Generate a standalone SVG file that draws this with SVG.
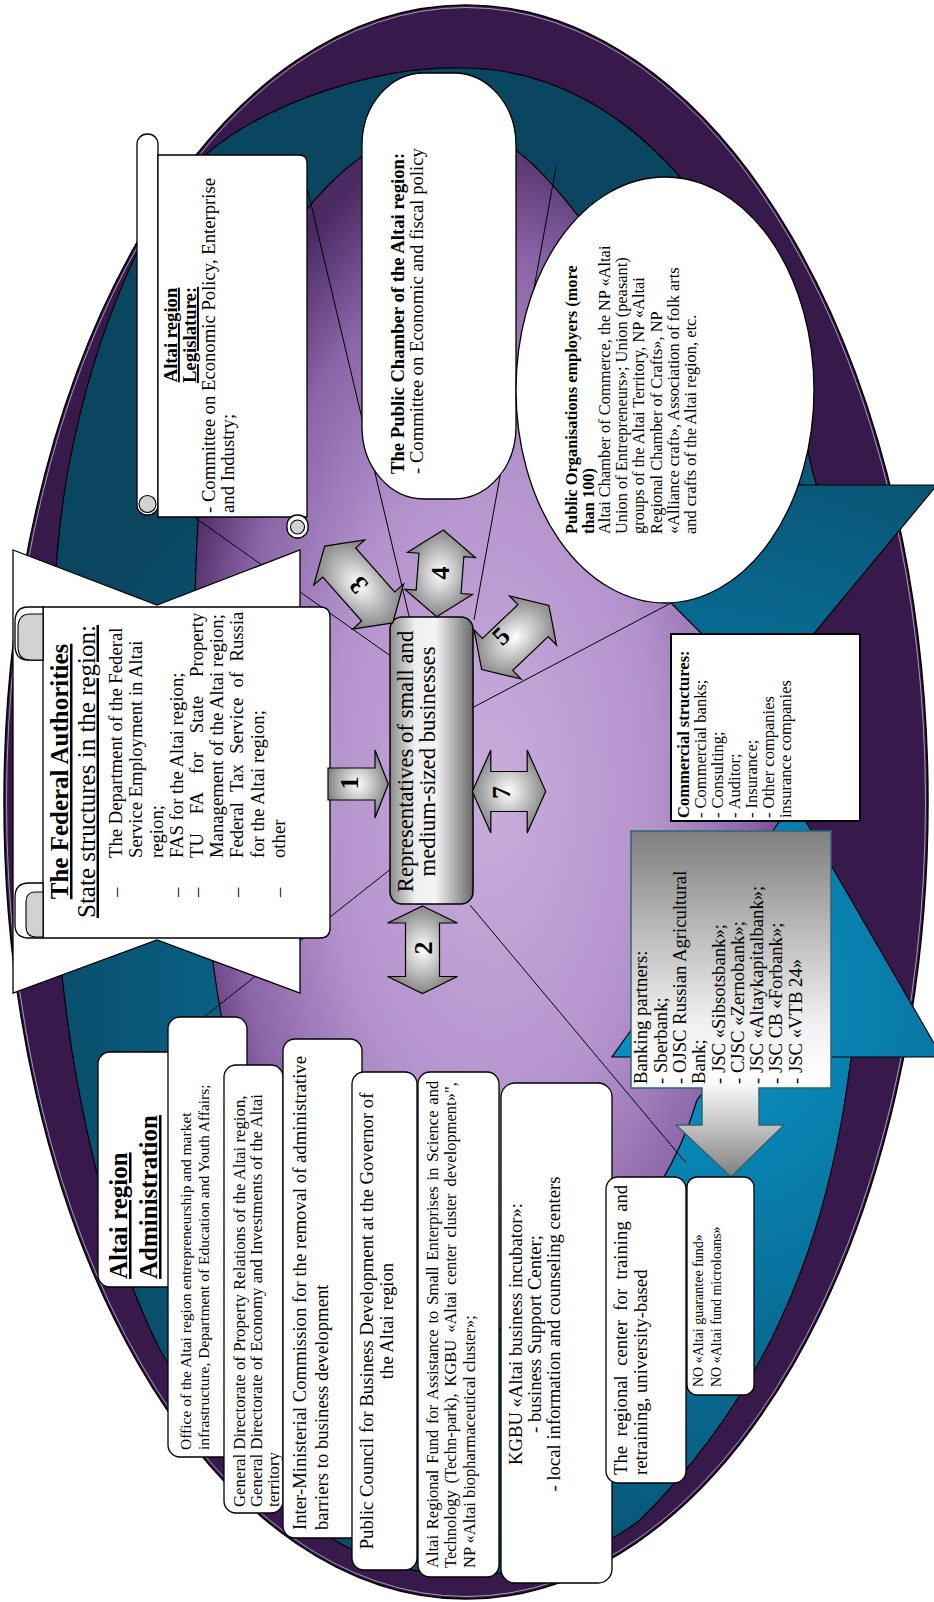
<svg xmlns="http://www.w3.org/2000/svg" width="934" height="1602" viewBox="0 0 934 1602">
<style>
.t{font-family:"Liberation Serif","Times New Roman",serif;fill:#000}
.b{font-weight:bold}
.u{text-decoration:underline}
.mid{text-anchor:middle}
.box{fill:#fff;stroke:#000;stroke-width:1.3}
.ln{stroke:#000;stroke-width:1;fill:none}
.arr{fill:url(#gArr);stroke:#000;stroke-width:1.2}
.num{font-family:"Liberation Serif","Times New Roman",serif;font-weight:bold;font-size:26px;text-anchor:middle;dominant-baseline:central}
.gray{fill:#d2d2d6;stroke:#000;stroke-width:1.1}
.teal{fill:url(#gTeal);stroke:#000;stroke-width:1.2}
</style>
<defs>
<radialGradient id="gTeal" gradientUnits="userSpaceOnUse" cx="680" cy="1000" r="700">
<stop offset="0" stop-color="#0a98cc"/><stop offset="0.45" stop-color="#08709a"/><stop offset="1" stop-color="#0a4660"/>
</radialGradient>
<radialGradient id="gPurple" cx="0.5" cy="0.55" r="0.55">
<stop offset="0" stop-color="#c9addb"/><stop offset="0.5" stop-color="#b493cc"/><stop offset="0.8" stop-color="#8a65a8"/><stop offset="1" stop-color="#4b2a62"/>
</radialGradient>
<radialGradient id="gArr" cx="0.5" cy="0.5" r="0.55">
<stop offset="0" stop-color="#ffffff"/><stop offset="1" stop-color="#7a7a7a"/>
</radialGradient>
<linearGradient id="gCenter" x1="0" y1="0" x2="1" y2="0">
<stop offset="0" stop-color="#8a8a8a"/><stop offset="0.3" stop-color="#efefef"/><stop offset="0.55" stop-color="#f4f4f4"/><stop offset="1" stop-color="#6a6a6a"/>
</linearGradient>
<linearGradient id="gBank" gradientUnits="userSpaceOnUse" x1="0" y1="831" x2="0" y2="1177">
<stop offset="0" stop-color="#7f7f7f"/><stop offset="0.55" stop-color="#f0f0f0"/><stop offset="0.72" stop-color="#ffffff"/><stop offset="1" stop-color="#7f7f7f"/>
</linearGradient>
<clipPath id="gap"><path clip-rule="evenodd" d="M0,0H934V1602H0Z M600,485H940V1057H600Z"/></clipPath>
</defs>

<g id="background">
<ellipse cx="466" cy="802" rx="462" ry="797" fill="#371a4b" stroke="#000" stroke-width="1.5"/>
<ellipse cx="466" cy="802" rx="459.5" ry="794.5" fill="none" stroke="#fff" stroke-width="0.8" opacity="0.7"/>
<path class="teal" clip-path="url(#gap)" d="M462,68 C640,68 770,250 812,470 C845,580 872,690 870,800 C868,900 862,990 845,1100 C820,1260 760,1400 640,1520 C580,1565 520,1575 460,1575 C330,1575 230,1470 160,1350 C100,1230 62,1050 55,880 C48,700 50,560 70,460 C95,330 150,202 205,155 C270,100 380,66 462,68 Z"/>
<path fill="url(#gPurple)" stroke="#000" stroke-width="1.2" d="M440,122 C500,122 545,170 590,232 C700,390 790,600 790,820 C790,960 740,1050 697,1100 C665,1210 560,1340 440,1340 C330,1340 250,1200 222,1020 C200,900 188,700 198,520 C215,330 300,150 440,122 Z"/>
<polygon class="teal" points="553,485 937,485 763,695"/>
<polygon class="teal" points="612,1057 942,1057 794,801"/>
</g>

<g id="connectors">
<line class="ln" x1="410" y1="620" x2="300" y2="158"/>
<line class="ln" x1="474" y1="620" x2="556" y2="167"/>
<line class="ln" x1="470" y1="709" x2="690" y2="593"/>
<line class="ln" x1="392" y1="657" x2="170" y2="500"/>
<line class="ln" x1="392" y1="868" x2="190" y2="1028"/>
<line class="ln" x1="470" y1="905" x2="686" y2="1163"/>
</g>

<g id="node-legislature">
<rect class="box" x="137" y="134" width="21" height="381" rx="10"/>
<path class="box" d="M158,155 H299 Q307,155 307,163 V517 H158 Z"/>
<rect class="box" x="287" y="515" width="21" height="23" rx="10"/>
<circle class="gray" cx="297.5" cy="527" r="7"/>
<circle class="gray" cx="147.5" cy="504" r="8.5"/>
<g transform="rotate(-90)" class="t" font-size="18.7">
<text class="b u mid" x="-335" y="177">Altai region</text>
<text class="b u mid" x="-335" y="196">Legislature:</text>
<text x="-513" y="215">- Committee on Economic Policy, Enterprise</text>
<text x="-513" y="233.5">and Industry;</text>
</g>
</g>

<g id="node-public-chamber">
<rect class="box" x="362" y="73" width="154" height="426" rx="62" ry="72"/>
<g transform="rotate(-90)" class="t" font-size="18.7">
<text class="b" x="-474" y="404">The Public Chamber of the Altai region:</text>
<text x="-474" y="423">- Committee on Economic and fiscal policy</text>
</g>
</g>

<g id="node-public-organisations">
<ellipse class="box" cx="665" cy="390" rx="149" ry="213"/>
<g transform="rotate(-90)" class="t" font-size="16.4">
<text class="b" x="-534" y="577">Public Organisations employers (more</text>
<text class="b" x="-534" y="593.5">than 100)</text>
<text x="-534" y="610">Altai Chamber of Commerce, the NP «Altai</text>
<text x="-534" y="627">Union of Entrepreneurs»; Union (peasant)</text>
<text x="-534" y="644">groups of the Altai Territory, NP «Altai</text>
<text x="-534" y="661.5">Regional Chamber of Crafts», NP</text>
<text x="-534" y="679">«Alliance craft», Association of folk arts</text>
<text x="-534" y="696">and crafts of the Altai region, etc.</text>
</g>
</g>

<g id="node-federal">
<polygon class="box" points="13,550 157,605 300,550 300,993 157,940 13,993"/>
<path class="box" d="M43,607 H320 Q330,607 330,617 V928 Q330,938 320,938 H43 Z"/>
<path class="box" d="M43,607 H28 Q15,607 15,622 V645 Q15,660 28,660 H43 Z"/>
<path class="gray" d="M43,614 H30 Q18,614 18,628 V647 Q18,660 31,660 H43 Z"/>
<path class="box" d="M43,883 H29 Q15,883 15,897 V925 Q15,938 29,938 H43 Z"/>
<path class="gray" d="M43,892 H35 Q26,892 26,902 V926 Q26,937 36,937 H43 Z"/>
<g transform="rotate(-90)" class="t">
<text class="b u mid" font-size="25" x="-771.5" y="68">The Federal Authorities</text>
<text class="u mid" font-size="25" x="-771.5" y="94.5">State structures in the region:</text>
<g font-size="18.7">
<text x="-897" y="122">–</text>
<text x="-858" y="122">The Department of the Federal</text>
<text x="-858" y="142">Service Employment in Altai</text>
<text x="-858" y="163">region;</text>
<text x="-897" y="183">–</text>
<text x="-858" y="183">FAS for the Altai region;</text>
<text x="-897" y="203">–</text>
<text x="-858" y="203" style="word-spacing:14.2px">TU FA for State Property</text>
<text x="-858" y="223">Management of the Altai region;</text>
<text x="-897" y="243">–</text>
<text x="-858" y="243" style="word-spacing:5.7px">Federal Tax Service of Russia</text>
<text x="-858" y="264">for the Altai region;</text>
<text x="-897" y="285">–</text>
<text x="-858" y="285">other</text>
</g>
</g>
</g>

<g id="node-center">
<rect x="390" y="617" width="83" height="287" rx="12" fill="url(#gCenter)" stroke="#000" stroke-width="1.5"/>
<g transform="rotate(-90)" class="t" font-size="22.7">
<text class="mid" x="-761.5" y="413">Representatives of small and</text>
<text class="mid" x="-761.5" y="435">medium-sized businesses</text>
</g>
</g>

<g id="arrow-1">
<path class="arr" d="M328,768 L375,768 L375,750 L388.3,784 L375,818 L375,800 L328,800 Z"/>
<text class="num" transform="translate(349,783) rotate(-90)">1</text>
</g>
<g id="arrow-2">
<path class="arr" d="M422.5,906 L457.5,923 L439.5,923 L439.5,976.5 L457.5,976.5 L422.5,993.5 L387.5,976.5 L405.5,976.5 L405.5,923 L387.5,923 Z"/>
<text class="num" transform="translate(423,948) rotate(-90)">2</text>
</g>
<g id="arrow-3">
<path class="arr" transform="translate(358.7,584.5) rotate(48.5)" d="M-51.35,0 L-29.35,-34 L-29.35,-22 L29.35,-22 L29.35,-34 L51.35,0 L29.35,34 L29.35,22 L-29.35,22 L-29.35,34 Z"/>
<text class="num" transform="translate(358.5,585) rotate(-131.5)">3</text>
</g>
<g id="arrow-4">
<path class="arr" transform="translate(440,573.4) rotate(94.4)" d="M-43.5,0 L-18.5,-34 L-18.5,-22.5 L18.5,-22.5 L18.5,-34 L43.5,0 L18.5,34 L18.5,22.5 L-18.5,22.5 L-18.5,34 Z"/>
<text class="num" transform="translate(440,573) rotate(-90)">4</text>
</g>
<g id="arrow-5">
<path class="arr" transform="translate(515.3,637.5) rotate(-43.7)" d="M-46.5,0 L-24.5,-34 L-24.5,-22 L24.5,-22 L24.5,-34 L46.5,0 L24.5,34 L24.5,22 L-24.5,22 L-24.5,34 Z"/>
<text class="num" transform="translate(501,636) rotate(-43.7)">5</text>
</g>
<g id="arrow-7">
<path class="arr" d="M472.3,791.5 L490.8,750 L490.8,771.5 L527.2,771.5 L527.2,750 L545.7,791.5 L527.2,833 L527.2,811.5 L490.8,811.5 L490.8,833 Z"/>
<text class="num" transform="translate(501,792.5) rotate(-90)">7</text>
</g>

<g id="node-commercial">
<rect x="671" y="634" width="189" height="187" fill="#fff" stroke="#000" stroke-width="2"/>
<g transform="rotate(-90)" class="t" font-size="16.5">
<text class="b" x="-818" y="689">Commercial structures:</text>
<text x="-818" y="705.5">- Commercial banks;</text>
<text x="-818" y="722.5">- Consulting;</text>
<text x="-818" y="739.5">- Auditor;</text>
<text x="-818" y="756.5">- Insurance;</text>
<text x="-818" y="773.5">- Other companies</text>
<text x="-818" y="790.5">insurance companies</text>
</g>
</g>

<g id="node-banking">
<path d="M631,831 H831 V1088 H759 V1125 H784 L731,1177 L676,1125 H702 V1088 H631 Z" fill="url(#gBank)" stroke="#2f6577" stroke-width="1.5"/>
<g transform="rotate(-90)" class="t" font-size="18.7">
<text x="-1084" y="647.3">Banking partners:</text>
<text x="-1084" y="666.6">- Sberbank;</text>
<text x="-1084" y="685.9">- OJSC Russian Agricultural</text>
<text x="-1084" y="705.2">Bank;</text>
<text x="-1084" y="724.5">- JSC «Sibsotsbank»;</text>
<text x="-1084" y="743.8">- CJSC «Zernobank»;</text>
<text x="-1084" y="763.1">- JSC «Altaykapitalbank»;</text>
<text x="-1084" y="782.4">- JSC CB «Forbank»;</text>
<text x="-1084" y="801.7">- JSC «VTB 24»</text>
</g>
</g>

<g id="node-admin-title">
<rect class="box" x="98" y="1052" width="82" height="235" rx="12"/>
<g transform="rotate(-90)" class="t b u" font-size="25">
<text x="-1279" y="127">Altai region</text>
<text x="-1279" y="157">Administration</text>
</g>
</g>

<g id="node-office">
<rect class="box" x="168" y="1017" width="79" height="440" rx="12"/>
<g transform="rotate(-90)" class="t" font-size="15.5">
<text x="-1450" y="190.5">Office of the Altai  region entrepreneurship and market</text>
<text x="-1450" y="208.5">infrastructure, Department of Education and Youth Affairs;</text>
</g>
</g>

<g id="node-general-directorate">
<rect class="box" x="224" y="1065" width="59" height="448" rx="12"/>
<g transform="rotate(-90)" class="t" font-size="16.8">
<text x="-1507" y="245">General Directorate of Property Relations of the Altai region,</text>
<text x="-1507" y="262">General Directorate of Economy and Investments of the Altai</text>
<text x="-1507" y="279">territory</text>
</g>
</g>

<g id="node-inter-ministerial">
<rect class="box" x="283" y="1039" width="79" height="499" rx="12"/>
<g transform="rotate(-90)" class="t" font-size="18.7">
<text x="-1530" y="306">Inter-Ministerial Commission for the removal of administrative</text>
<text x="-1530" y="327.5">barriers to business development</text>
</g>
</g>

<g id="node-public-council">
<rect class="box" x="352" y="1072" width="65" height="498" rx="12"/>
<g transform="rotate(-90)" class="t mid" font-size="18.7">
<text x="-1321" y="372.5">Public Council for Business Development at the Governor of</text>
<text x="-1321" y="392.6">the Altai region</text>
</g>
</g>

<g id="node-altai-fund">
<rect class="box" x="418" y="1072" width="81" height="505" rx="12"/>
<g transform="rotate(-90)" class="t" font-size="16.5">
<text x="-1568" y="438" style="word-spacing:1.7px">Altai Regional Fund for Assistance to Small Enterprises in Science and</text>
<text x="-1568" y="456.3" style="word-spacing:2.8px">Technology (Techn-park), KGBU «Altai center cluster development»",</text>
<text x="-1568" y="474.6">NP «Altai biopharmaceutical cluster»;</text>
</g>
</g>

<g id="node-kgbu">
<rect class="box" x="501" y="1083" width="111" height="500" rx="14"/>
<g transform="rotate(-90)" class="t mid" font-size="18.7">
<text x="-1334" y="522">KGBU «Altai business incubator»:</text>
<text x="-1334" y="541">- business Support Center;</text>
<text x="-1334" y="560">- local information and counseling centers</text>
</g>
</g>

<g id="node-training">
<rect class="box" x="606" y="1177" width="80" height="306" rx="12"/>
<g transform="rotate(-90)" class="t" font-size="18.7">
<text x="-1475" y="627" style="word-spacing:4.8px">The regional center for training and</text>
<text x="-1475" y="647">retraining, university-based</text>
</g>
</g>

<g id="node-funds">
<rect class="box" x="687" y="1177" width="67" height="218" rx="10"/>
<g transform="rotate(-90)" class="t" font-size="14">
<text x="-1387" y="703">NO «Altai guarantee fund»</text>
<text x="-1387" y="720.5">NO «Altai fund microloans»</text>
</g>
</g>
</svg>
